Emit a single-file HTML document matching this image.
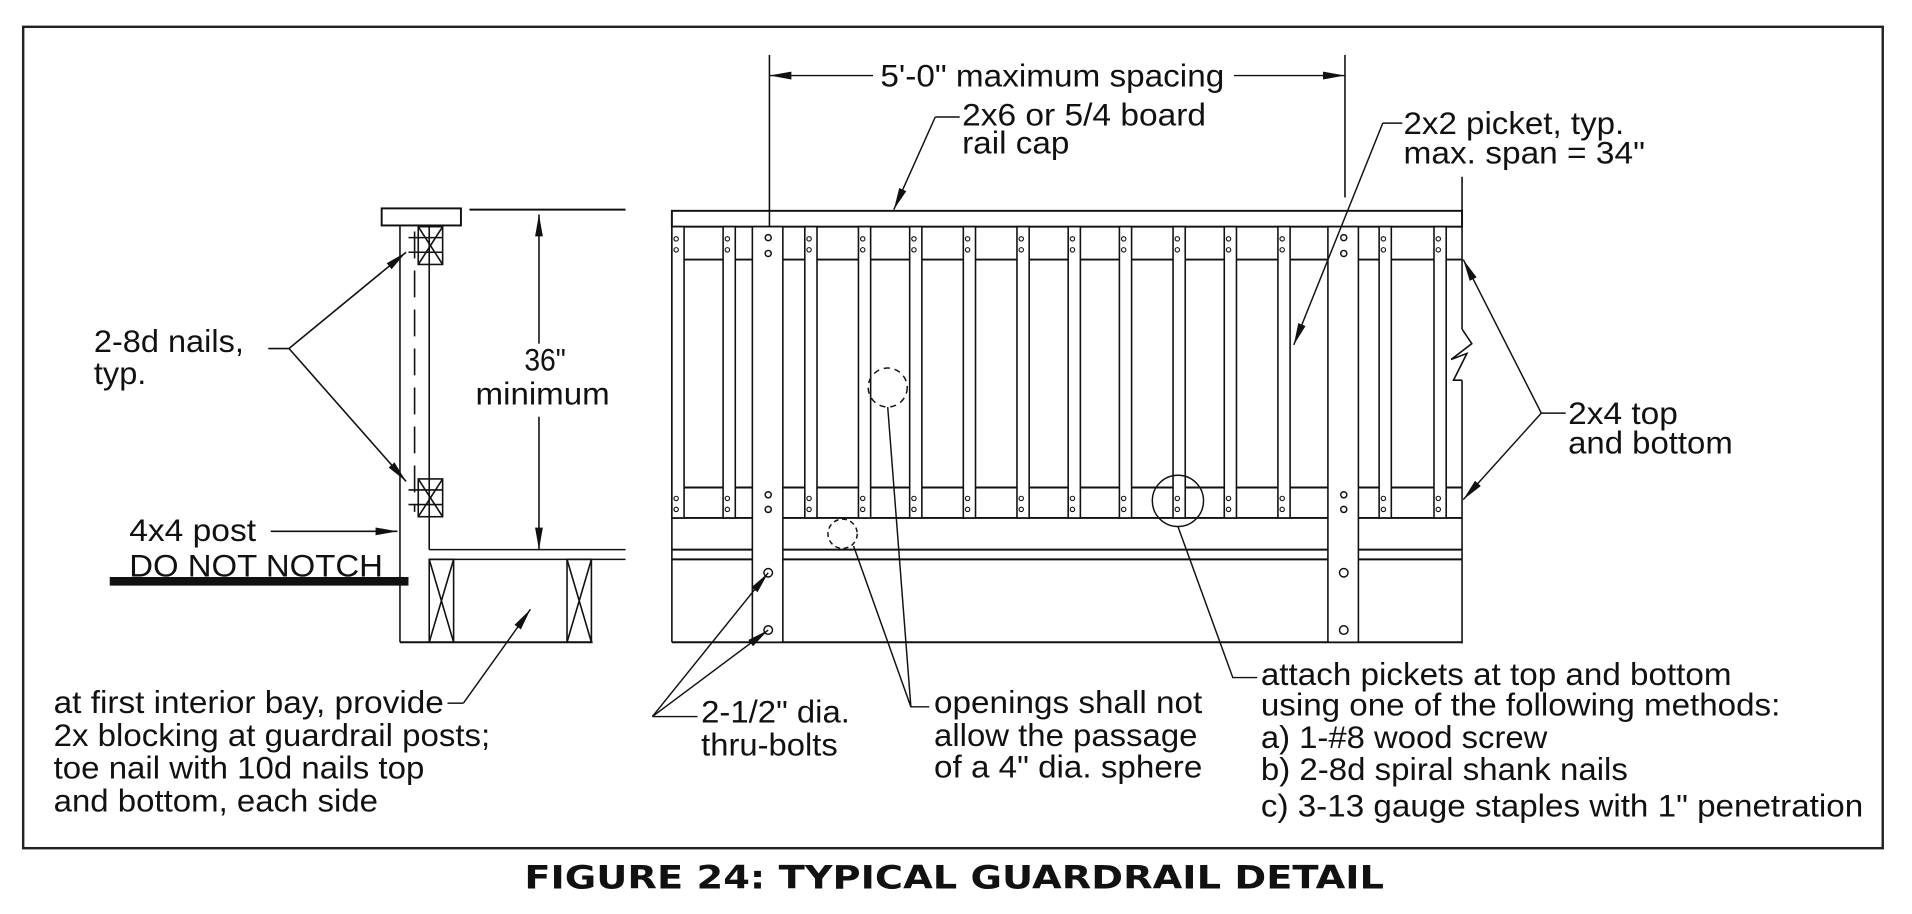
<!DOCTYPE html>
<html><head><meta charset="utf-8"><style>
html,body{margin:0;padding:0;background:#fff;width:1912px;height:914px;overflow:hidden}
svg{display:block}
text{font-family:"Liberation Sans",Arial,sans-serif;font-size:26px;fill:#111}
.t{font-family:"DejaVu Sans","Liberation Sans",sans-serif;font-weight:bold;font-size:26px}
</style></head><body>
<svg width="1912" height="914" viewBox="0 0 1568 750" preserveAspectRatio="none" xmlns="http://www.w3.org/2000/svg">
<defs>
<marker id="a" markerUnits="userSpaceOnUse" markerWidth="20" markerHeight="10" refX="18" refY="4" orient="auto"><path d="M0,0.8 L18,4 L0,7.2 Z" fill="#111"/></marker>
<g id="pk"><rect x="0" y="186" width="10" height="239" fill="#fff" stroke="#111" stroke-width="1.3"/><g fill="none" stroke="#111" stroke-width="0.9"><circle cx="3.5" cy="196" r="1.8"/><circle cx="3.5" cy="205" r="1.8"/><circle cx="3.5" cy="409" r="1.8"/><circle cx="3.5" cy="418" r="1.8"/></g></g>
</defs>
<rect x="0" y="0" width="1568" height="750" fill="#fff"/>
<rect x="19" y="22" width="1525" height="674" fill="none" stroke="#222" stroke-width="2"/>

<g stroke="#111" stroke-width="1.3" fill="none">
<rect x="313" y="171" width="65" height="14" stroke-width="1.6"/>
<line x1="385" y1="172" x2="513" y2="172" stroke-width="1.6"/>
<line x1="328" y1="185" x2="328" y2="527"/>
<line x1="352" y1="185" x2="352" y2="451"/>
<line x1="340" y1="190" x2="340" y2="420" stroke-dasharray="22,10"/>
<rect x="343" y="186" width="20" height="31"/>
<path d="M343,186 L363,217 M363,186 L343,217 M335,195 H363 M335,207 H363"/>
<rect x="343" y="393" width="20" height="31"/>
<path d="M343,393 L363,424 M363,393 L343,424 M335,402 H363 M335,414 H363"/>
<line x1="352" y1="451" x2="513" y2="451"/>
<line x1="352" y1="459" x2="513" y2="459"/>
<line x1="328" y1="527" x2="486" y2="527" stroke-width="1.6"/>
<rect x="352" y="459" width="20" height="68"/>
<path d="M352,459 L372,527 M372,459 L352,527"/>
<rect x="465" y="459" width="20" height="68"/>
<path d="M465,459 L485,527 M485,459 L465,527"/>
<line x1="90" y1="477" x2="335" y2="477" stroke-width="7"/>
<line x1="222" y1="436" x2="326" y2="436" marker-end="url(#a)"/>
<line x1="442" y1="282" x2="442" y2="176" marker-end="url(#a)"/>
<line x1="442" y1="342" x2="442" y2="451" marker-end="url(#a)"/>
<path d="M220,286 H237"/>
<line x1="237" y1="286" x2="333" y2="207" marker-end="url(#a)"/>
<line x1="237" y1="286" x2="333" y2="395" marker-end="url(#a)"/>

<rect x="551" y="173" width="648" height="13" fill="#fff" stroke-width="1.6"/>
<line x1="631" y1="45" x2="631" y2="186"/>
<line x1="1103" y1="45" x2="1103" y2="162"/>
<line x1="1199" y1="145" x2="1199" y2="270"/>
<line x1="1199" y1="312" x2="1199" y2="528"/>
<path d="M1199,270 L1207,282 L1190,295 L1203,290 L1192,312 L1199,312"/>
<line x1="551" y1="186" x2="551" y2="527"/>
<line x1="551" y1="213" x2="1199" y2="213" stroke-width="1.6"/>
<line x1="551" y1="400" x2="1199" y2="400" stroke-width="1.6"/>
<line x1="551" y1="425" x2="1199" y2="425" stroke-width="1.6"/>
<line x1="551" y1="451" x2="1199" y2="451" stroke-width="1.6"/>
<line x1="551" y1="459" x2="1199" y2="459" stroke-width="1.6"/>
<line x1="551" y1="527" x2="1199" y2="527" stroke-width="1.6"/>
</g>
<use href="#pk" x="551"/><use href="#pk" x="593"/><use href="#pk" x="660"/><use href="#pk" x="704"/>
<use href="#pk" x="746"/><use href="#pk" x="790"/><use href="#pk" x="834"/><use href="#pk" x="876"/>
<use href="#pk" x="918"/><use href="#pk" x="962"/><use href="#pk" x="1004"/><use href="#pk" x="1048"/>
<use href="#pk" x="1131"/><use href="#pk" x="1176"/>
<g stroke="#111" stroke-width="1.3" fill="#fff">
<rect x="617" y="186" width="25" height="341"/>
<rect x="1089" y="186" width="25" height="341"/>
</g>
<g stroke="#111" stroke-width="1.2" fill="none">
<circle cx="630" cy="195" r="2.5"/><circle cx="630" cy="208" r="2.5"/><circle cx="630" cy="406" r="2.5"/><circle cx="630" cy="418" r="2.5"/>
<circle cx="630" cy="470" r="3.5"/><circle cx="630" cy="517" r="3.5"/>
<circle cx="1102" cy="195" r="2.5"/><circle cx="1102" cy="208" r="2.5"/><circle cx="1102" cy="406" r="2.5"/><circle cx="1102" cy="418" r="2.5"/>
<circle cx="1102" cy="470" r="3.5"/><circle cx="1102" cy="517" r="3.5"/>
<circle cx="728" cy="318" r="16" stroke-dasharray="5,4"/>
<circle cx="691" cy="438" r="12" stroke-dasharray="4,3"/>
<circle cx="966" cy="411" r="21"/>
<line x1="716" y1="62" x2="631" y2="62" marker-end="url(#a)"/>
<line x1="1012" y1="62" x2="1103" y2="62" marker-end="url(#a)"/>
<path d="M787,96 H767"/>
<line x1="767" y1="96" x2="733" y2="172" marker-end="url(#a)"/>
<path d="M1150,101 H1134"/>
<line x1="1134" y1="101" x2="1061" y2="283" marker-end="url(#a)"/>
<path d="M1284,339 H1264"/>
<line x1="1264" y1="339" x2="1200" y2="213" marker-end="url(#a)"/>
<line x1="1264" y1="339" x2="1200" y2="410" marker-end="url(#a)"/>
<path d="M367,577 H380"/>
<line x1="380" y1="577" x2="435" y2="500" marker-end="url(#a)"/>
<path d="M572,588 H535"/>
<line x1="535" y1="588" x2="630" y2="470" marker-end="url(#a)"/>
<line x1="535" y1="588" x2="630" y2="517" marker-end="url(#a)"/>
<path d="M762,580 H747 L728,334 M747,580 L700,448"/>
<path d="M1031,556 H1011 L966,432"/>
</g>

<text x="77" y="289" textLength="123" lengthAdjust="spacingAndGlyphs">2-8d nails,</text>
<text x="77" y="315" textLength="43" lengthAdjust="spacingAndGlyphs">typ.</text>
<text x="430" y="304" textLength="34" lengthAdjust="spacingAndGlyphs">36"</text>
<text x="390" y="332" textLength="110" lengthAdjust="spacingAndGlyphs">minimum</text>
<text x="106" y="444" textLength="104" lengthAdjust="spacingAndGlyphs">4x4 post</text>
<text x="106" y="473" textLength="208" lengthAdjust="spacingAndGlyphs">DO NOT NOTCH</text>
<text x="722" y="71" textLength="282" lengthAdjust="spacingAndGlyphs">5'-0" maximum spacing</text>
<text x="789" y="103" textLength="200" lengthAdjust="spacingAndGlyphs">2x6 or 5/4 board</text>
<text x="789" y="126" textLength="88" lengthAdjust="spacingAndGlyphs">rail cap</text>
<text x="1151" y="110" textLength="181" lengthAdjust="spacingAndGlyphs">2x2 picket, typ.</text>
<text x="1151" y="134" textLength="198" lengthAdjust="spacingAndGlyphs">max. span = 34"</text>
<text x="1286" y="348" textLength="90" lengthAdjust="spacingAndGlyphs">2x4 top</text>
<text x="1286" y="372" textLength="135" lengthAdjust="spacingAndGlyphs">and bottom</text>
<text x="44" y="585" textLength="320" lengthAdjust="spacingAndGlyphs">at first interior bay, provide</text>
<text x="44" y="612" textLength="358" lengthAdjust="spacingAndGlyphs">2x blocking at guardrail posts;</text>
<text x="44" y="639" textLength="304" lengthAdjust="spacingAndGlyphs">toe nail with 10d nails top</text>
<text x="44" y="666" textLength="266" lengthAdjust="spacingAndGlyphs">and bottom, each side</text>
<text x="575" y="593" textLength="122" lengthAdjust="spacingAndGlyphs">2-1/2" dia.</text>
<text x="575" y="620" textLength="112" lengthAdjust="spacingAndGlyphs">thru-bolts</text>
<text x="766" y="585" textLength="220" lengthAdjust="spacingAndGlyphs">openings shall not</text>
<text x="766" y="612" textLength="216" lengthAdjust="spacingAndGlyphs">allow the passage</text>
<text x="766" y="638" textLength="220" lengthAdjust="spacingAndGlyphs">of a 4" dia. sphere</text>
<text x="1034" y="562" textLength="386" lengthAdjust="spacingAndGlyphs">attach pickets at top and bottom</text>
<text x="1034" y="587" textLength="426" lengthAdjust="spacingAndGlyphs">using one of the following methods:</text>
<text x="1034" y="614" textLength="235" lengthAdjust="spacingAndGlyphs">a) 1-#8 wood screw</text>
<text x="1034" y="640" textLength="301" lengthAdjust="spacingAndGlyphs">b) 2-8d spiral shank nails</text>
<text x="1034" y="670" textLength="494" lengthAdjust="spacingAndGlyphs">c) 3-13 gauge staples with 1" penetration</text>
<text class="t" x="430" y="729" textLength="705" lengthAdjust="spacingAndGlyphs">FIGURE 24: TYPICAL GUARDRAIL DETAIL</text>
</svg>
</body></html>
